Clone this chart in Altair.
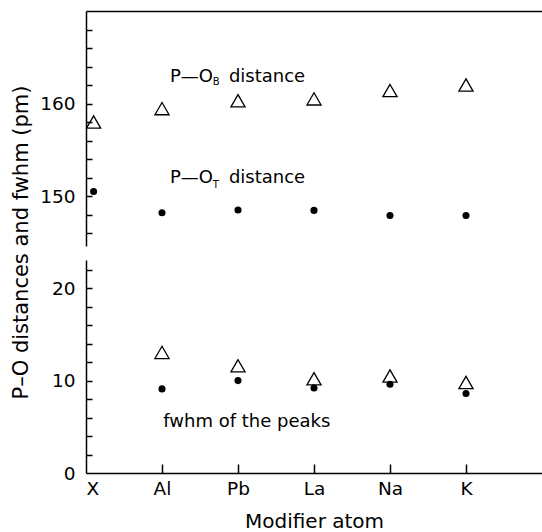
import altair as alt
import pandas as pd

# ---- data ----
atoms = ["X", "Al", "Pb", "La", "Na", "K"]
atom_x = [0.1, 1, 2, 3, 4, 5]
po_b = [158.0, 159.45, 160.3, 160.5, 161.4, 162.0]      # P-O_B distance (pm)
po_t = [150.5, 148.2, 148.5, 148.45, 147.9, 147.9]      # P-O_T distance (pm)

fwhm_atoms = ["Al", "Pb", "La", "Na", "K"]
fwhm_x = [1, 2, 3, 4, 5]
fwhm_b = [13.05, 11.6, 10.2, 10.5, 9.8]                  # fwhm of P-O_B peak
fwhm_t = [9.1, 10.0, 9.2, 9.6, 8.6]                      # fwhm of P-O_T peak

x_tick_values = [0, 1, 2, 3, 4, 5]
x_inner_ticks = [1, 2, 3, 4, 5]
top_major = [150, 160]
top_minor = [146, 148, 150, 152, 154, 156, 158, 160, 162, 164, 166, 168]
bot_major = [0, 10, 20]
bot_minor = [2, 4, 6, 8, 10, 12, 14, 16, 18, 20, 22]

# annotation texts
top_labels = ["P\u2014O", "distance", "P\u2014O", "distance"]
top_labels_x = [1.105, 1.88, 1.105, 1.88]
top_labels_y = [162.34, 162.34, 151.37, 151.37]
top_subs = ["B", "T"]
top_subs_x = [1.667, 1.667]
top_subs_y = [161.95, 150.9]
bot_labels = ["fwhm of the peaks"]
bot_labels_x = [1.017]
bot_labels_y = [4.96]

FONT = "DejaVu Sans"
W = 456
HT = 235
HB = 213

xs = alt.Scale(domain=[0, 6], nice=False, zero=False)
ys_top = alt.Scale(domain=[144.6, 170], nice=False, zero=False)
ys_bot = alt.Scale(domain=[0, 23.05], nice=False, zero=False)

label_expr = "[" + ",".join("'%s'" % a for a in atoms) + "][datum.value]"

# ---- top panel ----
top_df = pd.DataFrame({"x": atom_x, "atom": atoms, "po_b": po_b, "po_t": po_t})

tri_top = alt.Chart(top_df).mark_point(
    shape="triangle-up", size=200, filled=False, color="black", strokeWidth=1.3, opacity=1
).encode(
    x=alt.X("x:Q", scale=xs, axis=alt.Axis(orient="top", labels=False, ticks=False, grid=False,
                                            title=None, domain=True, domainColor="black",
                                            domainWidth=1.5)),
    y=alt.Y("po_b:Q", scale=ys_top, axis=alt.Axis(
        orient="left", values=top_major, ticks=False, grid=False, labelPadding=11,
        labelFontSize=18.5, labelFont=FONT, labelColor="black",
        domainColor="black", domainWidth=1.5,
        title="P\u2013O distances and fwhm (pm)", titleX=-65, titleY=231, titleAngle=270,
        titleBaseline="middle", titleAlign="center", titleFontSize=21, titleFont=FONT,
        titleFontWeight="normal", titleColor="black")),
)

dot_top = alt.Chart(top_df).mark_circle(size=50, color="black", opacity=1).encode(
    x=alt.X("x:Q", scale=xs, axis=None),
    y=alt.Y("po_t:Q", scale=ys_top, axis=alt.Axis(
        orient="right", offset=-W, values=top_minor, labels=False, domain=False, grid=False,
        tickSize=6, tickColor="black", tickWidth=1.5, title=None)),
)

ann_top_df = pd.DataFrame({"t": top_labels, "x": top_labels_x, "y": top_labels_y})
ann_top = alt.Chart(ann_top_df).mark_text(
    align="left", baseline="alphabetic", font=FONT, fontSize=18, color="black"
).encode(
    x=alt.X("x:Q", scale=xs, axis=None),
    y=alt.Y("y:Q", scale=ys_top, axis=None),
    text="t:N",
)

sub_top_df = pd.DataFrame({"t": top_subs, "x": top_subs_x, "y": top_subs_y})
sub_top = alt.Chart(sub_top_df).mark_text(
    align="left", baseline="alphabetic", font=FONT, fontSize=10, color="black"
).encode(
    x=alt.X("x:Q", scale=xs, axis=None),
    y=alt.Y("y:Q", scale=ys_top, axis=None),
    text="t:N",
)

top = alt.layer(tri_top, dot_top, ann_top, sub_top).resolve_axis(
    x="independent", y="independent"
).properties(width=W, height=HT)

# ---- bottom panel ----
bot_df = pd.DataFrame({"x": fwhm_x, "atom": fwhm_atoms, "fb": fwhm_b, "ft": fwhm_t})

tri_bot = alt.Chart(bot_df).mark_point(
    shape="triangle-up", size=200, filled=False, color="black", strokeWidth=1.3, opacity=1
).encode(
    x=alt.X("x:Q", scale=xs, axis=alt.Axis(
        orient="bottom", values=x_tick_values, labelExpr=label_expr, ticks=False, grid=False,
        labelPadding=6, labelFontSize=18.5, labelFont=FONT, labelColor="black",
        domainColor="black", domainWidth=1.5,
        title="Modifier atom", titlePadding=14, titleFontSize=20, titleFont=FONT,
        titleFontWeight="normal", titleColor="black")),
    y=alt.Y("fb:Q", scale=ys_bot, axis=alt.Axis(
        orient="left", values=bot_major, ticks=False, grid=False, labelPadding=11,
        labelFontSize=18.5, labelFont=FONT, labelColor="black",
        domainColor="black", domainWidth=1.5, title=None)),
)

dot_bot = alt.Chart(bot_df).mark_circle(size=50, color="black", opacity=1).encode(
    x=alt.X("x:Q", scale=xs, axis=alt.Axis(
        orient="top", offset=-HB, values=x_inner_ticks, labels=False, domain=False, grid=False,
        tickSize=9, tickColor="black", tickWidth=1.5, title=None)),
    y=alt.Y("ft:Q", scale=ys_bot, axis=alt.Axis(
        orient="right", offset=-W, values=bot_minor, labels=False, domain=False, grid=False,
        tickSize=6, tickColor="black", tickWidth=1.5, title=None)),
)

ann_bot_df = pd.DataFrame({"t": bot_labels, "x": bot_labels_x, "y": bot_labels_y})
ann_bot = alt.Chart(ann_bot_df).mark_text(
    align="left", baseline="alphabetic", font=FONT, fontSize=18, color="black"
).encode(
    x=alt.X("x:Q", scale=xs, axis=None),
    y=alt.Y("y:Q", scale=ys_bot, axis=None),
    text="t:N",
)

bottom = alt.layer(tri_bot, dot_bot, ann_bot).resolve_axis(x="independent", y="independent").properties(
    width=W, height=HB
)

chart = alt.vconcat(top, bottom, spacing=14, bounds="flush").properties(
    padding={"left": 9, "top": 11, "right": 0, "bottom": 0},
    background="white",
).configure_view(stroke=None)

chart.save("out.html", embed_options={"renderer": "svg", "actions": False})
